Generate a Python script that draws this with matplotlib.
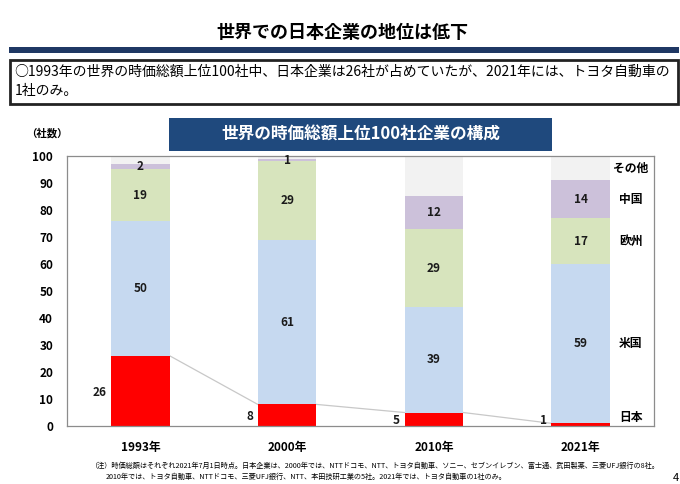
import matplotlib
matplotlib.use("Agg")
import matplotlib.pyplot as plt
from matplotlib.patches import Rectangle

plt.rcParams['font.family'] = ['Noto Sans CJK JP', 'DejaVu Sans']

# data (社数)
years = ["1993年", "2000年", "2010年", "2021年"]
japan = [26, 8, 5, 1]
usa = [50, 61, 39, 59]
europe = [19, 29, 29, 17]
china = [2, 1, 12, 14]
other = [3, 1, 15, 9]
region_names = ["日本", "米国", "欧州", "中国", "その他"]
colors = ["#FF0000", "#C6D9F0", "#D7E4BD", "#CCC1DA", "#F2F2F2"]

fig = plt.figure(figsize=(6.8, 4.84), dpi=100)

# header
fig.text(0.504, 0.932, "世界での日本企業の地位は低下", ha='center', va='center',
         fontsize=13, fontweight='bold')
fig.patches.append(Rectangle((0.013, 0.8905), 0.985, 0.0124, transform=fig.transFigure,
                             facecolor="#1F3864", edgecolor='none'))
fig.patches.append(Rectangle((0.014, 0.785), 0.983, 0.0909, transform=fig.transFigure,
                             facecolor='white', edgecolor='#222222', linewidth=2))
fig.text(0.021, 0.851, "○1993年の世界の時価総額上位100社中、日本企業は26社が占めていたが、2021年には、トヨタ自動車の",
         ha='left', va='center', fontsize=10)
fig.text(0.021, 0.812, "1社のみ。", ha='left', va='center', fontsize=10)

# sub title box
fig.patches.append(Rectangle((0.2485, 0.688), 0.563, 0.068, transform=fig.transFigure,
                             facecolor="#1F497D", edgecolor='none', zorder=5))
fig.text(0.53, 0.722, "世界の時価総額上位100社企業の構成", ha='center', va='center',
         fontsize=12, fontweight='bold', color='white', zorder=6)
fig.text(0.069, 0.725, "（社数）", ha='center', va='center', fontsize=7.5, fontweight='bold')

ax = fig.add_axes([0.0985, 0.1198, 0.8633, 0.5579])
x = list(range(len(years)))
w = 0.4
series = [japan, usa, europe, china, other]
bottoms = [0] * len(years)
for vals, col in zip(series, colors):
    ax.bar(x, vals, width=w, bottom=bottoms, color=col, edgecolor='none', zorder=2)
    bottoms = [b + v for b, v in zip(bottoms, vals)]

# lines joining Japan bars
for i in range(len(years) - 1):
    ax.plot([x[i] + w / 2, x[i + 1] - w / 2], [japan[i], japan[i + 1]],
            color="#C8C8C8", linewidth=0.9, zorder=1)

# value labels
for i in x:
    ax.text(x[i] - w / 2 - 0.03, max(japan[i] / 2 - 0.5, 2), str(japan[i]),
            ha='right', va='center', fontsize=8.5, fontweight='bold', color='#1a1a1a')
    base = japan[i]
    for vals in [usa, europe, china]:
        ax.text(x[i], base + vals[i] / 2, str(vals[i]), ha='center', va='center',
                fontsize=8.5, fontweight='bold', color='#1a1a1a', zorder=3)
        base += vals[i]

# region labels on the right, next to the 2021 bar
base = 0
for name, vals in zip(region_names, series):
    ax.text(x[-1] + 0.34, max(base + vals[-1] / 2, 3), name, ha='center', va='center',
            fontsize=8.5, fontweight='bold')
    base += vals[-1]

ax.set_xlim(-0.5, 3.5)
ax.set_ylim(0, 100)
ax.set_yticks(range(0, 101, 10))
ax.set_xticks(x)
ax.set_xticklabels(years, fontsize=8.5, fontweight='bold')
for lbl in ax.get_yticklabels():
    lbl.set_fontweight('bold')
    lbl.set_fontsize(8.5)
ax.tick_params(axis='both', length=0)
ax.tick_params(axis='x', pad=11)
ax.tick_params(axis='y', pad=10)
for s in ax.spines.values():
    s.set_color('#8C8C8C')
    s.set_linewidth(0.9)

# footnote
fig.text(0.132, 0.037, "（注）時価総額はそれぞれ2021年7月1日時点。日本企業は、2000年では、NTTドコモ、NTT、トヨタ自動車、ソニー、セブンイレブン、富士通、武田製薬、三菱UFJ銀行の8社。",
         ha='left', va='center', fontsize=5.15)
fig.text(0.155, 0.0145, "2010年では、トヨタ自動車、NTTドコモ、三菱UFJ銀行、NTT、本田技研工業の5社。2021年では、トヨタ自動車の1社のみ。",
         ha='left', va='center', fontsize=5.15)
fig.text(0.99, 0.012, "4", ha='left', va='center', fontsize=8)

fig.savefig("out.png", dpi=100)
